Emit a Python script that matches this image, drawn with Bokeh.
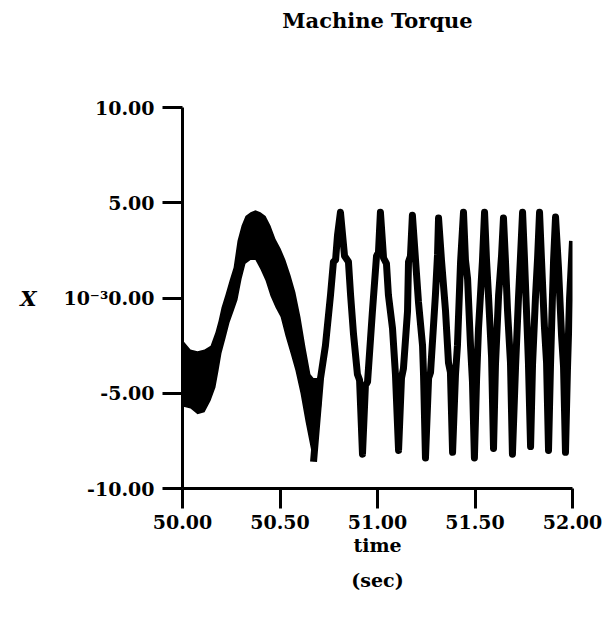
from bokeh.plotting import figure
from bokeh.models import Range1d, FixedTicker, NumeralTickFormatter
from bokeh.embed import file_html
from bokeh.resources import INLINE

# Early part of the record: fast ripple fills a band between these envelopes
band_t = [50.000, 50.041, 50.077, 50.113, 50.144, 50.169, 50.185, 50.200, 50.221,
          50.241, 50.262, 50.282, 50.303, 50.323, 50.349, 50.374, 50.400, 50.426,
          50.451, 50.477, 50.503, 50.528, 50.554, 50.579, 50.605, 50.631, 50.656,
          50.672, 50.692, 50.713]
band_hi = [-2.2, -2.7, -2.8, -2.7, -2.5, -1.8, -1.2, -0.5, 0.2,
           0.9, 1.6, 3.0, 3.8, 4.3, 4.5, 4.6, 4.5, 4.3,
           3.8, 3.1, 2.6, 2.0, 1.2, 0.3, -1.0, -2.6, -4.0,
           -4.2, -4.2, -3.6]
band_lo = [-5.7, -5.8, -6.1, -6.0, -5.4, -4.7, -3.8, -2.9, -2.1,
           -1.3, -0.7, -0.1, 1.0, 1.8, 2.0, 2.0, 1.5, 0.9,
           0.1, -0.5, -1.0, -2.0, -2.9, -3.8, -5.0, -6.5, -7.8,
           -8.6, -7.6, -5.5]

# Later part: the torque oscillation itself
trace_t = [50.672, 50.708, 50.733, 50.759, 50.774, 50.785, 50.795, 50.810, 50.831,
           50.851, 50.862, 50.877, 50.897, 50.908, 50.923, 50.938, 50.949, 50.974,
           50.995, 51.005, 51.015, 51.031, 51.046, 51.056, 51.077, 51.092, 51.108,
           51.123, 51.133, 51.154, 51.159, 51.169, 51.179, 51.195, 51.210, 51.231,
           51.236, 51.246, 51.262, 51.272, 51.297, 51.308, 51.313, 51.328, 51.349,
           51.364, 51.374, 51.385, 51.400, 51.410, 51.426, 51.441, 51.451, 51.462,
           51.477, 51.487, 51.497, 51.508, 51.518, 51.538, 51.549, 51.559, 51.569,
           51.585, 51.595, 51.605, 51.621, 51.636, 51.646, 51.656, 51.667, 51.682,
           51.692, 51.708, 51.723, 51.733, 51.744, 51.754, 51.769, 51.774, 51.785,
           51.795, 51.810, 51.821, 51.831, 51.841, 51.856, 51.867, 51.877, 51.887,
           51.897, 51.903, 51.913, 51.928, 51.944, 51.954, 51.964, 51.974, 51.985,
           52.000]
trace_v = [-8.6, -4.2, -2.5, 0.15, 1.9, 2.0, 3.3, 4.5, 2.2,
           1.9, 0.15, -1.9, -4.0, -4.3, -8.2, -4.6, -4.4, -0.7,
           2.2, 2.4, 4.5, 2.1, 1.8, 0.15, -1.6, -4.0, -8.0,
           -4.2, -3.7, -0.7, 1.9, 2.2, 4.35, 2.0, -0.2, -2.5,
           -4.0, -8.4, -4.2, -3.9, 0.15, 2.3, 4.2, 2.0, -0.7,
           -3.4, -3.9, -8.1, -4.0, -2.5, 1.9, 4.5, 2.0, 1.0,
           -2.5, -4.4, -8.4, -4.3, -1.6, 1.9, 4.5, 2.0, 0.15,
           -3.1, -7.9, -3.5, 0.15, 2.2, 4.2, 2.0, -0.7, -3.4,
           -8.2, -3.6, 0.0, 2.1, 4.5, 2.0, -2.0, -3.4, -7.8,
           -3.5, 0.0, 2.1, 4.5, 2.0, -1.5, -3.4, -8.0, -3.6,
           0.0, 2.0, 4.25, 1.6, -2.0, -3.6, -8.1, -3.8, 0.0,
           3.0]

x_ticks = [50.0, 50.5, 51.0, 51.5, 52.0]
y_ticks = [-10, -5, 0, 5, 10]

SERIF = "DejaVu Serif"

p = figure(width=607, height=622, output_backend="svg", toolbar_location=None,
           x_range=Range1d(50, 52), y_range=Range1d(-10, 10),
           min_border_left=182, min_border_right=35,
           min_border_top=106, min_border_bottom=134)

p.grid.visible = False
p.outline_line_color = None
p.background_fill_color = "white"
p.border_fill_color = "white"

# blank trailing lines lift the title well clear of the frame
p.title.text = "Machine Torque\n \n "
p.title.align = "center"
p.title.text_font = SERIF
p.title.text_font_style = "bold"
p.title.text_font_size = "21px"
p.title.text_line_height = 1.39
p.title.text_color = "black"

for ax in (p.xaxis[0], p.yaxis[0]):
    ax.axis_line_width = 3
    ax.axis_line_color = "black"
    ax.major_tick_line_width = 3
    ax.major_tick_line_color = "black"
    ax.major_tick_out = 20
    ax.major_tick_in = 0
    ax.minor_tick_line_color = None
    ax.major_label_text_font = SERIF
    ax.major_label_text_font_style = "bold"
    ax.major_label_text_font_size = "19px"
    ax.major_label_text_color = "black"
    ax.formatter = NumeralTickFormatter(format="0.00")
    ax.axis_label_text_font = SERIF
    ax.axis_label_text_color = "black"

p.xaxis.ticker = FixedTicker(ticks=x_ticks)
p.yaxis.ticker = FixedTicker(ticks=y_ticks)
p.yaxis.major_label_standoff = 8
p.xaxis.major_label_standoff = 6

# scale factor printed in front of the zero label, symbol to its left
p.yaxis.major_label_overrides = {0: "10\u207b\u00b30.00"}
p.yaxis.axis_label = "X"
p.yaxis.axis_label_orientation = "horizontal"
p.yaxis.axis_label_text_font_style = "bold italic"
p.yaxis.axis_label_text_font_size = "21px"
p.yaxis.axis_label_standoff = 24

p.xaxis.axis_label = "time\n(sec)"
p.xaxis.axis_label_text_font_style = "bold"
p.xaxis.axis_label_text_font_size = "19px"
p.xaxis.axis_label_text_line_height = 1.6
p.xaxis.axis_label_standoff = 2

p.varea(x=band_t, y1=band_lo, y2=band_hi, fill_color="black")
p.line(trace_t, trace_v, line_color="black", line_width=7, line_join="round")

open("out.html", "w").write(file_html(p, INLINE))
